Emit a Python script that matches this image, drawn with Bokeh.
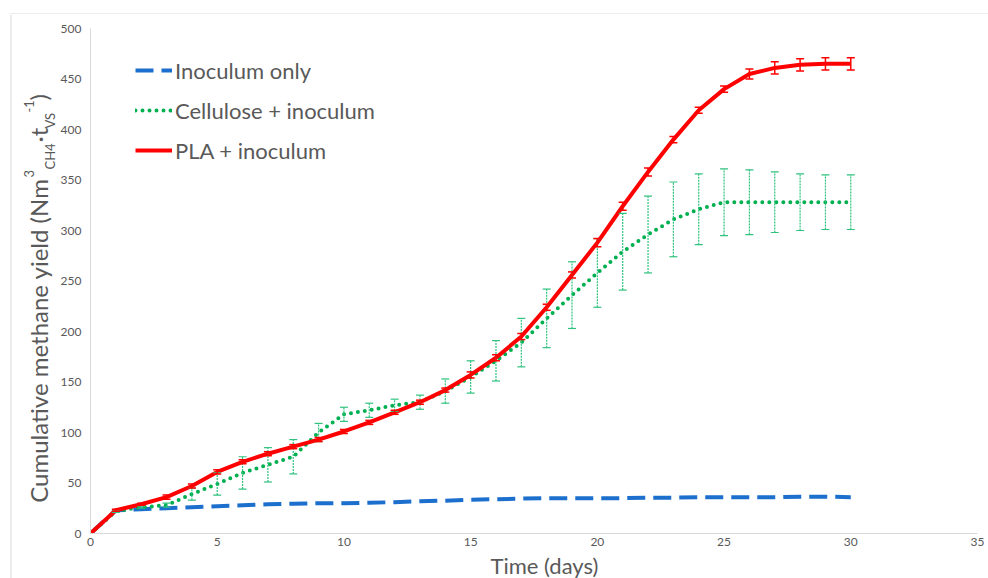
from bokeh.plotting import figure
from bokeh.layouts import column, row
from bokeh.models import (ColumnDataSource, Whisker, TeeHead, Legend, LegendItem,
                          Range1d, FixedTicker)
from bokeh.core.properties import value
from bokeh.embed import file_html
from bokeh.resources import INLINE

# ---------------- data ----------------
days = list(range(0, 31))
inoculum = [0, 23, 24, 25, 26, 27, 28, 29, 29.5, 30, 30, 30.5, 31, 32, 32.5, 33.5,
            34, 34.5, 35, 35, 35, 35, 35.5, 35.5, 36, 36, 36, 36, 36.5, 36.5, 36]
cellulose = [0, 22, 26, 28, 39, 49, 60, 68, 76, 100, 118, 122, 127, 130, 141, 155,
             171, 189, 213, 236, 258, 279, 296, 311, 321, 328, 328, 328, 328, 328, 328]
cellulose_err = [0, 1, 1, 2, 6, 11, 16, 17, 17, 9, 7, 7, 6, 7, 12, 16,
                 20, 24, 29, 33, 34, 38, 38, 37, 35, 33, 32, 30, 28, 27, 27]
pla = [0, 23, 29, 36, 47, 61, 71, 79, 86, 93, 101, 110, 120, 130, 142, 157,
       174, 195, 224, 256, 288, 324, 358, 390, 419, 440, 455, 461, 464, 465, 465]
pla_err = [0, 1, 1, 2, 2, 2, 2, 2, 2, 2, 2, 2, 2, 2, 2, 3,
           3, 3, 3, 3, 4, 4, 4, 3, 3, 3, 5, 6, 6, 6, 6]
x_ticks = [0, 5, 10, 15, 20, 25, 30, 35]
y_ticks = [0, 50, 100, 150, 200, 250, 300, 350, 400, 450, 500]
series_names = ["Inoculum only", "Cellulose + inoculum", "PLA + inoculum"]
x_title = "Time (days)"
y_title_parts = ["Cumulative methane yield (Nm", "3", "CH4", "·t", "VS", "-1", ")"]

BLUE = "#1c6fcc"
GREEN = "#00b050"
GREEN_ERR = "#2ec27e"
RED = "#ff0000"
TXT = "#595959"
FRAME = "#d9d9d9"
FONT = "Lato"

W, H = 988, 578
TOP_H = 14
TITLE_W = 57
MAIN_W = W - TITLE_W
XT_H = 27
MAIN_H = H - TOP_H - XT_H


def bare(width, height, xr, yr):
    f = figure(width=width, height=height, output_backend="svg", toolbar_location=None,
               x_range=Range1d(*xr), y_range=Range1d(*yr),
               x_axis_location=None, y_axis_location=None,
               min_border=0, min_border_left=0, min_border_right=0,
               min_border_top=0, min_border_bottom=0)
    f.outline_line_color = None
    f.xgrid.visible = False
    f.ygrid.visible = False
    return f


# ---------------- outer frame strip (top) ----------------
top = bare(W, TOP_H, (0, W), (0, TOP_H))
top.segment(x0=[10], y0=[0.5], x1=[W], y1=[0.5], line_color=FRAME, line_width=1)
top.segment(x0=[10.5], y0=[0], x1=[10.5], y1=[0.5], line_color=FRAME, line_width=1)

# ---------------- y title panel ----------------
tp = bare(TITLE_W, H - TOP_H, (0, TITLE_W), (0, H - TOP_H))
tp.segment(x0=[10.5], y0=[0], x1=[10.5], y1=[H - TOP_H], line_color=FRAME, line_width=1)
x_main, x_sup, x_sub = 38, 28, 49
pieces = [
    (y_title_parts[0], x_main, 400, "right", "24px"),
    (y_title_parts[1], x_sup, 401, "left", "13px"),
    (y_title_parts[2], x_sub, 409, "left", "13px"),
    (y_title_parts[3], x_main, 436, "left", "24px"),
    (y_title_parts[4], x_sub, 450, "left", "13px"),
    (y_title_parts[5], x_sup, 466, "left", "13px"),
    (y_title_parts[6], x_main, 478, "left", "24px"),
]
for txt, xx, yy, align, fs in pieces:
    tp.text(x=[xx], y=[yy], text=[txt], angle=1.5707963, text_align=align,
            text_baseline="middle", text_font=value(FONT), text_font_size=value(fs),
            text_color=TXT)

# ---------------- x title strip ----------------
xt = bare(MAIN_W, XT_H, (0, MAIN_W), (0, XT_H))
xt.text(x=[476.5], y=[XT_H / 2], text=[x_title], text_align="center",
        text_baseline="middle", text_font=value(FONT), text_font_size=value("22px"),
        text_color=TXT)

# ---------------- main chart ----------------
p = figure(width=MAIN_W, height=MAIN_H, output_backend="svg", toolbar_location=None,
           x_range=Range1d(0, 35), y_range=Range1d(0, 500),
           min_border_left=33, min_border_right=11, min_border_top=14,
           min_border_bottom=18)
p.outline_line_color = None
p.xgrid.visible = False
p.ygrid.visible = False
p.background_fill_color = "white"

for ax in (p.xaxis[0], p.yaxis[0]):
    ax.major_tick_line_color = None
    ax.minor_tick_line_color = None
    ax.major_tick_out = 0
    ax.major_tick_in = 0
    ax.minor_tick_out = 0
    ax.minor_tick_in = 0
    ax.axis_line_color = FRAME
    ax.axis_line_width = 1
    ax.major_label_text_font = FONT
    ax.major_label_text_font_size = "12px"
    ax.major_label_text_color = TXT

p.xaxis.ticker = FixedTicker(ticks=x_ticks)
p.yaxis.ticker = FixedTicker(ticks=y_ticks)
p.xaxis.major_label_standoff = 4
p.yaxis.major_label_standoff = 9

src_c = ColumnDataSource(dict(x=days[1:],
                              lo=[v - e for v, e in zip(cellulose[1:], cellulose_err[1:])],
                              hi=[v + e for v, e in zip(cellulose[1:], cellulose_err[1:])]))
src_p = ColumnDataSource(dict(x=days[1:],
                              lo=[v - e for v, e in zip(pla[1:], pla_err[1:])],
                              hi=[v + e for v, e in zip(pla[1:], pla_err[1:])]))

r_blue = p.line(days, inoculum, line_color=BLUE, line_width=4, line_dash="18 8")
r_green = p.line(days, cellulose, line_color=GREEN, line_width=4, line_dash="0 7",
                 line_cap="round")
w_green = Whisker(source=src_c, base="x", upper="hi", lower="lo", level="glyph",
                  line_color=GREEN_ERR, line_width=1.2, line_dash="2 1",
                  upper_head=TeeHead(size=8, line_color=GREEN_ERR, line_width=1.2),
                  lower_head=TeeHead(size=8, line_color=GREEN_ERR, line_width=1.2))
p.add_layout(w_green)
r_red = p.line(days, pla, line_color=RED, line_width=4)
w_red = Whisker(source=src_p, base="x", upper="hi", lower="lo", level="glyph",
                line_color=RED, line_width=1.5,
                upper_head=TeeHead(size=8, line_color=RED, line_width=1.5),
                lower_head=TeeHead(size=8, line_color=RED, line_width=1.5))
p.add_layout(w_red)

legend = Legend(items=[LegendItem(label=series_names[0], renderers=[r_blue]),
                       LegendItem(label=series_names[1], renderers=[r_green]),
                       LegendItem(label=series_names[2], renderers=[r_red])],
                location=(45, 368), orientation="vertical",
                padding=0, margin=0, spacing=10,
                glyph_width=37, glyph_height=30, label_height=30, label_standoff=3,
                label_text_font=FONT, label_text_font_size="22px", label_text_color=TXT,
                background_fill_alpha=0, border_line_alpha=0)
p.add_layout(legend)

layout = column(top, row(tp, column(p, xt, spacing=0), spacing=0), spacing=0)
open("out.html", "w").write(file_html(layout, INLINE))
